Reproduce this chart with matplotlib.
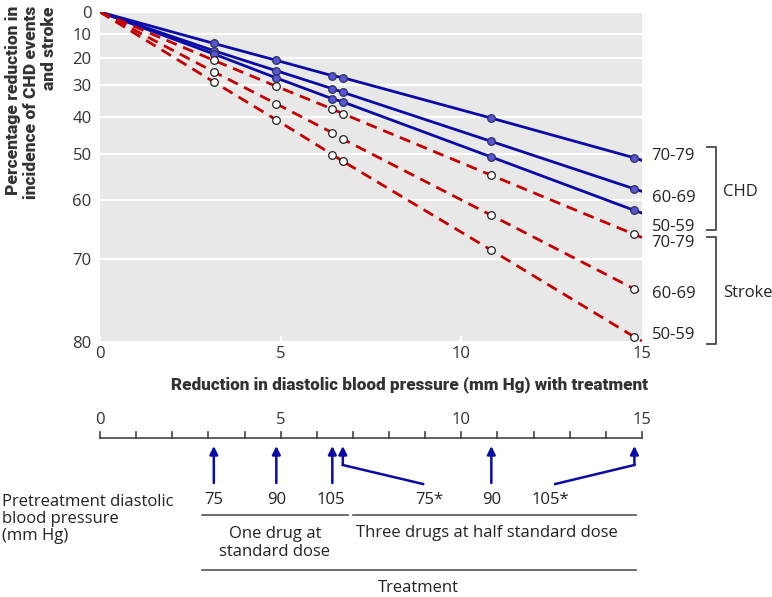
import numpy as np
import matplotlib
matplotlib.use("Agg")
import matplotlib.pyplot as plt
from matplotlib.transforms import blended_transform_factory

# 데이터: 이완기 혈압 감소량(mm Hg)과 연령대별 위험 감소율(%)
bp_drop = [3.15, 4.88, 6.43, 6.72, 10.83, 14.79]
x_max = 15

chd_70_79 = [14.2, 21.0, 26.7, 27.4, 40.4, 50.9]
chd_60_69 = [17.2, 24.9, 31.2, 32.4, 46.8, 57.8]
chd_50_59 = [18.5, 27.5, 34.5, 35.5, 50.7, 62.0]
stroke_70_79 = [21.0, 30.4, 37.7, 39.1, 54.9, 66.2]
stroke_60_69 = [25.3, 36.1, 44.5, 46.2, 62.9, 74.1]
stroke_50_59 = [28.9, 40.9, 50.1, 51.7, 68.7, 79.5]

# x = 15 에서의 선 끝 값
chd_end = [51.5, 58.3, 62.5]
stroke_end = [66.7, 74.6, 79.9]

age_groups = ["70-79", "60-69", "50-59"]
y_ticks = [0, 10, 20, 30, 40, 50, 60, 70, 80]
x_ticks = [0, 5, 10, 15]

pretreat_dbp = ["75", "90", "105", "75*", "90", "105*"]

BLUE = "#0a0aa8"
RED = "#c40000"
GREY = "#444444"
FS = 12
FONT = ["Open Sans", "DejaVu Sans"]
BOLD = ["Roboto", "DejaVu Sans"]

plt.rcParams["font.family"] = FONT


def fwd(r):
    r = np.clip(np.asarray(r, dtype=float), None, 99.9)
    return -np.log(1 - r / 100)


def inv(t):
    return 100 * (1 - np.exp(-np.asarray(t, dtype=float)))


fig = plt.figure(figsize=(7.72, 5.97), dpi=100)
ax = fig.add_axes([100 / 772, 1 - 342 / 597, 542 / 772, 330 / 597])
ax.set_facecolor("#e8e8e8")
ax.set_yscale("function", functions=(fwd, inv))
ax.set_ylim(80, 0)
ax.set_xlim(0, x_max)
ax.set_yticks(y_ticks)
ax.set_yticklabels([str(v) for v in y_ticks])
ax.set_xticks(x_ticks)
ax.tick_params(axis="y", length=0, pad=6, labelsize=FS, labelcolor="#333333")
ax.tick_params(axis="x", direction="in", length=4, width=1.5, color="white",
               pad=3, labelsize=FS, labelcolor="#333333")
for s in ax.spines.values():
    s.set_visible(False)
ax.set_axisbelow(True)
ax.grid(axis="y", color="white", lw=1.6)

xs = [0] + bp_drop + [x_max]
chd = [chd_70_79, chd_60_69, chd_50_59]
stroke = [stroke_70_79, stroke_60_69, stroke_50_59]

for vals, end in zip(chd, chd_end):
    ax.plot(xs, [0] + vals + [end], color=BLUE, lw=2, zorder=3)
    ax.plot(bp_drop, vals, "o", ms=5.5, mfc="#5656d6", mec="#30305a", mew=0.9, zorder=4)
for vals, end in zip(stroke, stroke_end):
    ax.plot(xs, [0] + vals + [end], color=RED, lw=2, dashes=(4, 2.5), zorder=3)
    ax.plot(bp_drop, vals, "o", ms=5.5, mfc="white", mec="#222222", mew=0.9, zorder=4)

# 오른쪽 연령대 라벨
chd_offsets = [3, -5, -10]
stroke_offsets = [-4, -1, 4]
for lab, end, off in zip(age_groups, chd_end, chd_offsets):
    ax.annotate(lab, xy=(x_max, end), xytext=(7, off), textcoords="offset points",
                va="center", ha="left", fontsize=FS, color="#222222",
                annotation_clip=False)
for lab, end, off in zip(age_groups, stroke_end, stroke_offsets):
    ax.annotate(lab, xy=(x_max, end), xytext=(7, off), textcoords="offset points",
                va="center", ha="left", fontsize=FS, color="#222222",
                annotation_clip=False)

# 오버레이 (픽셀 좌표)
ov = fig.add_axes([0, 0, 1, 1], zorder=-1)
ov.set_xlim(0, 772)
ov.set_ylim(597, 0)
ov.axis("off")

# 괄호
ov.plot([707, 716, 716, 707], [147, 147, 230, 230], color="#555555", lw=1.4)
ov.plot([707, 716, 716, 707], [237, 237, 344, 344], color="#555555", lw=1.4)
ov.text(723, 192, "CHD", va="center", ha="left", fontsize=FS, color="#222222")
ov.text(723, 293, "Stroke", va="center", ha="left", fontsize=FS, color="#222222")

fig.text(31 / 772, 1 - 6 / 597,
         "Percentage reduction in\nincidence of CHD events\nand stroke",
         rotation=90, ha="center", va="top", multialignment="right",
         fontsize=12.5, fontweight=900, family=BOLD, color="#333333",
         linespacing=1.15)
fig.text(648 / 772, 1 - 385 / 597,
         "Reduction in diastolic blood pressure (mm Hg) with treatment",
         ha="right", va="center", fontsize=12.3, fontweight=900, family=BOLD,
         color="#333333")

# 아래 수직선 (x 는 데이터, y 는 픽셀)
bt = blended_transform_factory(ax.transData, ov.transData)
ov.plot([0, x_max], [438, 438], transform=bt, color=GREY, lw=1.2)
for t in range(0, x_max + 1):
    ov.plot([t, t], [438, 432], transform=bt, color=GREY, lw=1.2)
for t in x_ticks:
    ov.text(t, 420, str(t), transform=bt, ha="center", va="center",
            fontsize=FS, color="#333333")

# 화살표
for i, x in enumerate(bp_drop):
    if i in (3, 5):
        start = 465
    else:
        start = 483
    ov.annotate("", xy=(x, 446), xycoords=bt, xytext=(x, start), textcoords=bt,
                arrowprops=dict(arrowstyle="-|>", color=BLUE, lw=1.8,
                                mutation_scale=12, shrinkA=0, shrinkB=0))

text_x = [bp_drop[0], bp_drop[1], bp_drop[2] - 0.05, 9.1, bp_drop[4], 12.45]
ov.plot([bp_drop[3], 8.94], [465, 484], transform=bt, color=BLUE, lw=1.8)
ov.plot([12.6, bp_drop[5]], [484, 465], transform=bt, color=BLUE, lw=1.8)
for x, lab in zip(text_x, pretreat_dbp):
    ov.text(x, 500, lab, transform=bt, ha="center", va="center",
            fontsize=FS, color="#222222")

ov.text(2, 519, "Pretreatment diastolic\nblood pressure\n(mm Hg)", ha="left",
        va="center", fontsize=FS, color="#222222", linespacing=1.1)

ov.plot([2.82, 6.86], [515, 515], transform=bt, color="#555555", lw=1.2)
ov.plot([7.0, 14.84], [515, 515], transform=bt, color="#555555", lw=1.2)
ov.text(4.84, 543, "One drug at\nstandard dose", transform=bt, ha="center",
        va="center", fontsize=FS, color="#222222", linespacing=1.1)
ov.text(10.7, 533, "Three drugs at half standard dose", transform=bt,
        ha="center", va="center", fontsize=FS, color="#222222")
ov.plot([2.82, 14.84], [570, 570], transform=bt, color="#555555", lw=1.2)
ov.text(8.8, 588, "Treatment", transform=bt, ha="center", va="center",
        fontsize=FS, color="#222222")

plt.savefig("out.png", dpi=100)
